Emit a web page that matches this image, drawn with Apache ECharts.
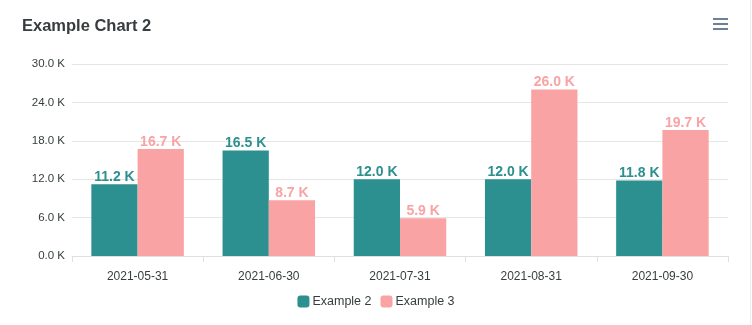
<!DOCTYPE html>
<html><head><meta charset="utf-8">
<script src="https://cdn.jsdelivr.net/npm/echarts@6/dist/echarts.min.js"></script>
<style>html,body{margin:0;padding:0;background:#fff}#c{width:752px;height:325px}</style>
</head><body><div id="c"></div>
<script>
const categories = ['2021-05-31','2021-06-30','2021-07-31','2021-08-31','2021-09-30'];
const example2 = [11200, 16500, 12000, 12000, 11800];
const example3 = [16700, 8700, 5900, 26000, 19700];
const yTicks = {min: 0, max: 30000, interval: 6000};
const fmtK = v => (v/1000).toFixed(1) + ' K';
const FF = '"Liberation Sans", Arial, sans-serif';
const chart = echarts.init(document.getElementById('c'), null, {renderer: 'canvas'});
chart.setOption({
  animation: false,
  title: {text: 'Example Chart 2', left: 17, top: 13, textStyle: {fontFamily: FF, fontSize: 16.5, fontWeight: 'bold', color: '#373d3f'}},
  legend: {bottom: 12, left: 'center', itemWidth: 12, itemHeight: 12, itemGap: 9, icon: 'roundRect',
    textStyle: {fontFamily: FF, fontSize: 12.5, color: '#373d3f', padding: [0, 0, 0, -2]}},
  grid: {left: 72, right: 24, top: 64, bottom: 69},
  xAxis: {type: 'category', data: categories,
    axisLine: {lineStyle: {color: '#e0e0e0'}},
    axisTick: {show: true, length: 6, lineStyle: {color: '#e0e0e0'}},
    axisLabel: {color: '#373d3f', fontSize: 12, fontFamily: FF, margin: 15}},
  yAxis: {type: 'value', min: yTicks.min, max: yTicks.max, interval: yTicks.interval,
    axisLabel: {formatter: fmtK, color: '#373d3f', fontSize: 11.5, fontFamily: FF, margin: 7},
    splitLine: {lineStyle: {color: '#e6e6e6'}}, axisLine: {show: false}, axisTick: {show: false}},
  series: [
    {name: 'Example 2', type: 'bar', data: example2, barGap: '0%', barCategoryGap: '29.5%',
      itemStyle: {color: '#2b908f'},
      label: {show: true, position: 'top', distance: 0, formatter: p => fmtK(p.value), color: '#2b908f', fontWeight: 'bold', fontSize: 14, fontFamily: FF}},
    {name: 'Example 3', type: 'bar', data: example3,
      itemStyle: {color: '#f9a3a4'},
      label: {show: true, position: 'top', distance: 0, formatter: p => fmtK(p.value), color: '#f9a3a4', fontWeight: 'bold', fontSize: 14, fontFamily: FF}}
  ],
  graphic: [
    {type: 'rect', left: 713, top: 18, shape: {width: 15, height: 2}, style: {fill: '#6e8192'}},
    {type: 'rect', left: 713, top: 23, shape: {width: 15, height: 2}, style: {fill: '#6e8192'}},
    {type: 'rect', left: 713, top: 28, shape: {width: 15, height: 2}, style: {fill: '#6e8192'}},
    {type: 'line', shape: {x1: 750.5, y1: 0, x2: 750.5, y2: 325}, style: {stroke: '#eeeeee', lineWidth: 1}}
  ]
});
</script></body></html>
